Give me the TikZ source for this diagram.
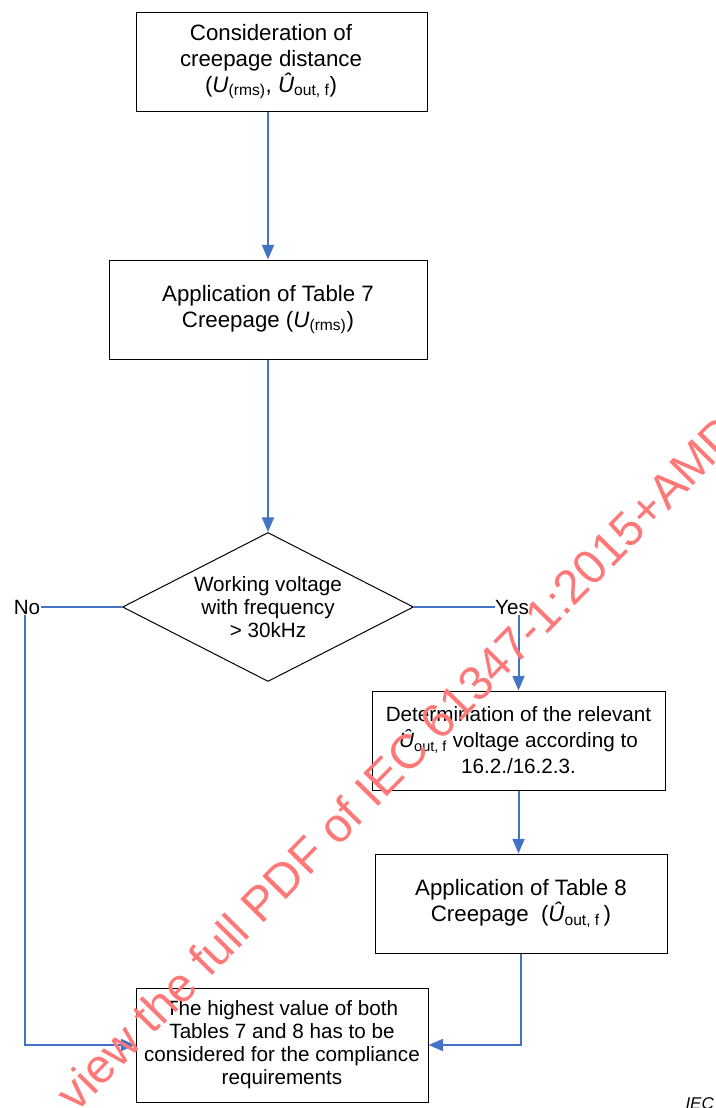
\documentclass[tikz,border=0pt]{standalone}
\usepackage{fontspec}
\setmainfont{Liberation Sans}
\usetikzlibrary{arrows.meta,shapes.geometric}

\definecolor{flowblue}{RGB}{68,114,196}
\definecolor{stampred}{RGB}{255,120,120}
\newcommand{\Urms}{\textit{U}\textsubscript{(rms)}}
\newcommand{\Uout}{\textit{\^U}\textsubscript{out, f}}

\tikzset{every picture/.style={line width=0.75pt}}
\tikzset{
  stepbox/.style={draw, inner sep=0pt, align=center, font=\fontsize{16.7}{19.5}\selectfont},
  flow/.style={draw=flowblue, line width=1.5pt, -{Triangle[length=11pt,width=9pt]}},
  link/.style={draw=flowblue, line width=1.5pt},
  label/.style={inner sep=0pt, font=\fontsize{15.5}{19.5}\selectfont}
}

\begin{document}
\begin{tikzpicture}[x=0.75pt,y=0.75pt,yscale=-1,xscale=1]
	\useasboundingbox (0,0) rectangle (716,1108);

	%Boxes
	\node[stepbox, minimum width=291*0.75pt, minimum height=99*0.75pt] (consider) at (281.5,61.5) {};
	\node[label, align=center, font=\fontsize{16.7}{19.5}\selectfont] (considertext) at (271,61.5)
		{Consideration of\\creepage distance\\(\Urms, \Uout)};
	\node[stepbox, minimum width=318*0.75pt, minimum height=99*0.75pt] (table7) at (268,309.5)
		{Application of Table 7\\Creepage (\Urms)};
	%Shape: Diamond
	\node[draw, diamond, inner sep=0pt, minimum width=291*0.75pt, minimum height=149*0.75pt] (freq) at (268,607) {};
	\node[label, align=center, font=\fontsize{15.5}{17.5}\selectfont] (freqtext) at (freq.center) {Working voltage\\with frequency\\> 30kHz};
	\node[stepbox, minimum width=293*0.75pt, minimum height=99*0.75pt, font=\fontsize{15.5}{19.5}\selectfont] (determine) at (518.5,740.5)
		{Determination of the relevant\\\Uout{} voltage according to\\16.2./16.2.3.};
	\node[stepbox, minimum width=292*0.75pt, minimum height=99*0.75pt] (table8) at (521,903.5)
		{Application of Table 8\\Creepage~~(\Uout\,)};
	\node[stepbox, minimum width=292*0.75pt, minimum height=114*0.75pt, font=\fontsize{15.5}{17.2}\selectfont] (highest) at (282,1045)
		{The highest value of both\\Tables 7 and 8 has to be\\considered for the compliance\\requirements};

	% Text Node
	\node[label] (no) at (27,607) {No};
	% Text Node
	\node[label] (yes) at (512,607) {Yes};
	% Text Node
	\node[inner sep=0pt, anchor=base west, font=\itshape\fontsize{12.75}{14}\selectfont] (iec) at (685,1109) {IEC};

	%Connectors
	\draw[flow] (consider.south -| table7.north) -- (table7.north);
	\draw[flow] (table7.south) -- (freq.north);
	\draw[link] (freq.west) -- (no.east);
	\draw[flow] ([xshift=-1.5pt]no.south) |- (highest.west);
	\draw[link] (freq.east) -- (yes.west);
	\draw[flow] (yes.south -| determine.north) -- (determine.north);
	\draw[flow] (determine.south) -- (determine.south |- table8.north);
	\draw[flow] (table8.south) |- (highest.east);

	% Stamp
	\node[inner sep=0pt, anchor=base west, rotate=45.5, text=stampred, font=\fontsize{36}{42}\selectfont] (stamp) at (76,1114)
		{view the full PDF of IEC 61347-1:2015+AMD1:2017};

\end{tikzpicture}
\end{document}
